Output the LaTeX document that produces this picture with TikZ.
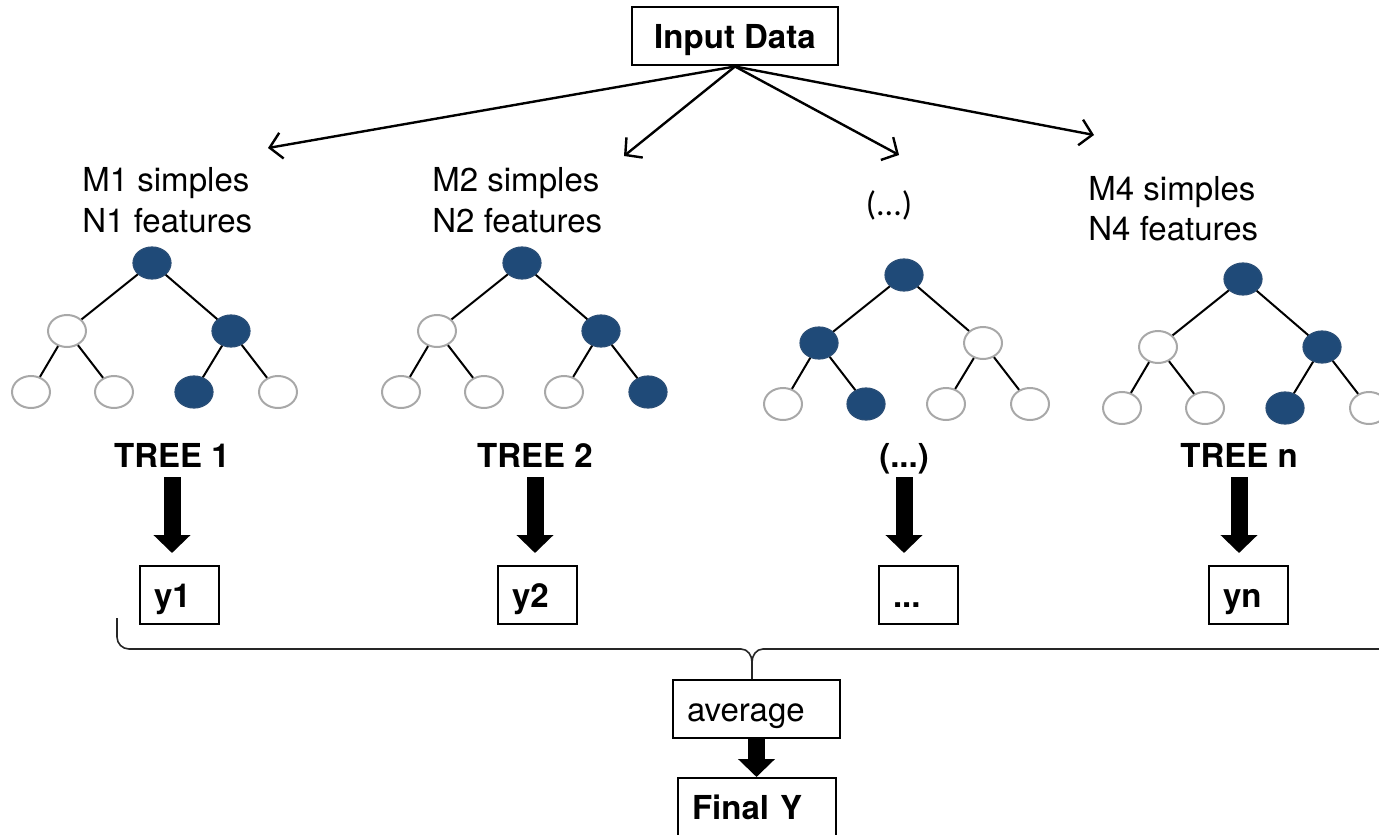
\documentclass[tikz,border=0pt]{standalone}
\usepackage{fontspec}
\setmainfont{TeX Gyre Heros}
\newfontfamily\calfont{Carlito}
\usetikzlibrary{arrows.meta,shapes.geometric}
\definecolor{nodeblue}{HTML}{1F4A78}
\definecolor{nodeedge}{HTML}{2B4F77}
\definecolor{ringgray}{HTML}{A8A8A8}

\begin{document}
\begin{tikzpicture}[x=0.5pt, y=-0.5pt,
  every node/.style={font=\fontsize{16.5}{20.5}\selectfont},
  outbox/.style={draw, line width=1pt, inner xsep=7pt, inner ysep=0pt, minimum height=29pt,
    text height=13pt, text depth=0.5pt, font=\bfseries\fontsize{16.5}{20}\selectfont},
  ybox/.style={outbox, text width=25.5pt, align=left, anchor=north west},
  fullnode/.style={ellipse, draw=nodeedge, line width=0.6pt, fill=nodeblue,
    minimum width=19pt, minimum height=16pt, inner sep=0pt},
  emptynode/.style={ellipse, draw=ringgray, line width=1pt, fill=white,
    minimum width=19pt, minimum height=16pt, inner sep=0pt},
  branch/.style={line width=1pt},
  treelabel/.style={font=\bfseries\fontsize{16.5}{20}\selectfont, inner sep=0pt, text depth=0pt, anchor=base},
  note/.style={anchor=base west, align=left, inner sep=0pt},
  feed/.style={line width=1.2pt, -{Straight Barb[length=6pt,width=13pt]}},
  bigarrow/.style={line width=8.5pt, -{Triangle[length=9pt,width=18pt]}}]
\useasboundingbox (0,0) rectangle (1379,834);

% input and its four branches
\node[outbox, minimum width=103pt] (in) at (735,36.5) {Input Data};
\coordinate (e1) at (268,148);
\coordinate (e2) at (624,156);
\coordinate (e3) at (899,155);
\coordinate (e4) at (1094,135);
\foreach \k in {1,...,4}
  \draw[feed] (in.south) -- (e\k);

% base anchor sits on the second line
\node[note] (m1) at (82,232) {M1 simples\\N1 features};
\node[note] (m2) at (432,232) {M2 simples\\N2 features};
\node[anchor=base, inner sep=0pt, font=\calfont\fontsize{17}{20}\selectfont] (m3) at (889,215) {(...)};
\node[note] (m4) at (1088,241) {M4 simples\\N4 features};

% the trees
\foreach \t/\rx/\ry/\ka/\kb/\kc/\kd/\ke/\kf/\kg in {
  1/152/263/fullnode/emptynode/fullnode/emptynode/emptynode/fullnode/emptynode,
  2/522/263/fullnode/emptynode/fullnode/emptynode/emptynode/emptynode/fullnode,
  3/904/275/fullnode/fullnode/emptynode/emptynode/fullnode/emptynode/emptynode,
  4/1243/279/fullnode/emptynode/fullnode/emptynode/emptynode/fullnode/emptynode}
{
  \node[\ka] (root\t) at (\rx,\ry) {};
  \node[\kb] (left\t) at ({\rx-85},{\ry+68}) {};
  \node[\kc] (right\t) at ({\rx+79},{\ry+68}) {};
  \node[\kd] (leafa\t) at ({\rx-121},{\ry+129}) {};
  \node[\ke] (leafb\t) at ({\rx-38},{\ry+129}) {};
  \node[\kf] (leafc\t) at ({\rx+42},{\ry+129}) {};
  \node[\kg] (leafd\t) at ({\rx+126},{\ry+129}) {};
  \draw[branch] (root\t) -- (left\t) (root\t) -- (right\t)
    (left\t) -- (leafa\t) (left\t) -- (leafb\t)
    (right\t) -- (leafc\t) (right\t) -- (leafd\t);
}

\node[treelabel] (t1) at (172,467) {TREE 1};
\node[treelabel] (t2) at (535,467) {TREE 2};
\node[treelabel] (t3) at (904,467) {(...)};
\node[treelabel] (t4) at (1239,467) {TREE n};

\node[ybox] (y1) at (139,565) {y1};
\node[ybox] (y2) at (497,565) {y2};
\node[ybox] (y3) at (878,565) {...};
\node[ybox] (y4) at (1208,565) {yn};

\foreach \k in {1,...,4}
  \draw[bigarrow, shorten <=5pt, shorten >=6pt] (t\k.south) -- (t\k.south |- y\k.north);

% brace and result
\node[outbox, text width=69.5pt, align=left, anchor=north west, font=\fontsize{16.5}{20}\selectfont] (avg) at (672,679) {average};
\node[outbox, text width=65pt, align=left, anchor=north west] (fin) at (677,777) {Final Y};
\draw[line width=0.8pt, black!85] (117,618) -- (117,637) to[out=-90,in=180] (129,649) -- (741,649)
  to[out=0,in=90] (752,662) -- (752,679);
\draw[line width=0.8pt, black!85] (752,662) to[out=90,in=180] (763,649) -- (1390,649);
\draw[bigarrow] (avg.south) -- (avg.south |- fin.north);
\end{tikzpicture}
\end{document}
